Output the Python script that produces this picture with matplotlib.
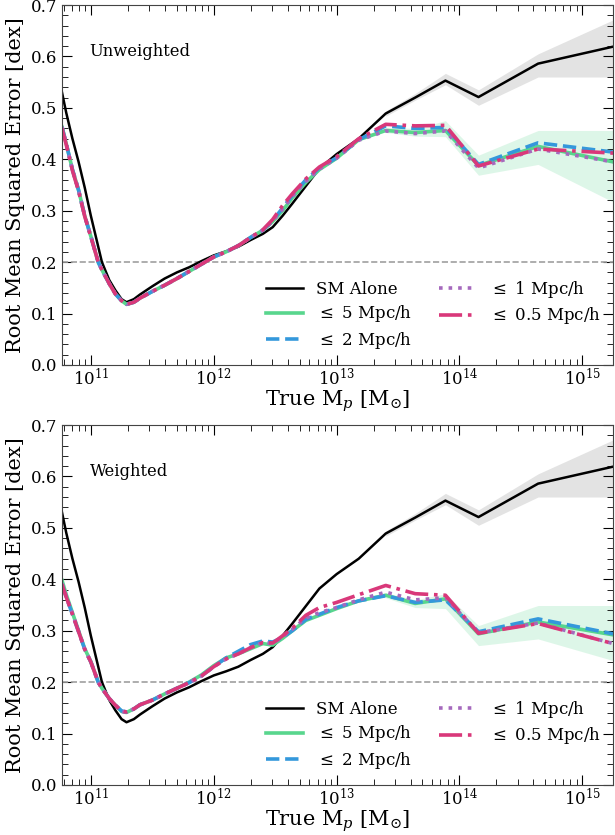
import numpy as np
import matplotlib
matplotlib.use("Agg")
from matplotlib import pyplot as plt
from matplotlib.ticker import AutoMinorLocator, LogLocator, NullFormatter

plt.rcParams["font.family"] = "DejaVu Serif"
plt.rcParams["mathtext.fontset"] = "dejavuserif"

# log10 of true mass grid (shared by every curve)
log_mass = [10.765, 10.8, 10.85, 10.9, 10.95, 11.0, 11.06, 11.09, 11.15, 11.2,
            11.25, 11.29, 11.35, 11.4, 11.5, 11.6, 11.7, 11.8, 11.9, 12.0,
            12.1, 12.2, 12.3, 12.4, 12.48, 12.56, 12.64, 12.75, 12.86, 13.0,
            13.18, 13.4, 13.64, 13.886, 14.155, 14.64, 15.25]

sm_alone = [0.53, 0.49, 0.44, 0.395, 0.345, 0.29, 0.23, 0.20, 0.165, 0.145,
            0.128, 0.122, 0.128, 0.137, 0.153, 0.168, 0.18, 0.19, 0.202, 0.213,
            0.221, 0.23, 0.243, 0.255, 0.268, 0.29, 0.314, 0.348, 0.382, 0.41,
            0.44, 0.489, 0.52, 0.553, 0.521, 0.586, 0.619]

unw_5 = [0.463, 0.43, 0.38, 0.34, 0.29, 0.25, 0.20, 0.185, 0.158, 0.138,
         0.125, 0.118, 0.122, 0.13, 0.143, 0.155, 0.168, 0.182, 0.196, 0.21,
         0.22, 0.232, 0.248, 0.262, 0.279, 0.30, 0.325, 0.355, 0.38, 0.402,
         0.438, 0.456, 0.452, 0.456, 0.388, 0.425, 0.395]
unw_2 = [0.463, 0.43, 0.38, 0.34, 0.29, 0.25, 0.20, 0.185, 0.158, 0.138,
         0.125, 0.118, 0.122, 0.13, 0.143, 0.155, 0.168, 0.182, 0.196, 0.21,
         0.22, 0.232, 0.248, 0.262, 0.281, 0.305, 0.33, 0.36, 0.383, 0.403,
         0.438, 0.465, 0.46, 0.462, 0.39, 0.432, 0.414]
unw_1 = [0.463, 0.43, 0.38, 0.34, 0.29, 0.25, 0.20, 0.185, 0.158, 0.138,
         0.125, 0.118, 0.122, 0.13, 0.143, 0.155, 0.168, 0.182, 0.196, 0.21,
         0.22, 0.232, 0.248, 0.262, 0.28, 0.303, 0.328, 0.357, 0.381, 0.402,
         0.437, 0.455, 0.45, 0.455, 0.383, 0.42, 0.395]
unw_05 = [0.46, 0.428, 0.378, 0.338, 0.289, 0.249, 0.20, 0.185, 0.158, 0.138,
          0.125, 0.118, 0.122, 0.13, 0.143, 0.155, 0.168, 0.182, 0.196, 0.21,
          0.22, 0.232, 0.248, 0.263, 0.283, 0.31, 0.333, 0.362, 0.385, 0.405,
          0.44, 0.468, 0.465, 0.466, 0.387, 0.42, 0.412]

wt_5 = [0.398, 0.37, 0.335, 0.30, 0.265, 0.24, 0.20, 0.188, 0.168, 0.155,
        0.143, 0.141, 0.148, 0.156, 0.165, 0.177, 0.188, 0.2, 0.214, 0.232,
        0.247, 0.255, 0.265, 0.275, 0.272, 0.285, 0.30, 0.32, 0.33, 0.343,
        0.358, 0.369, 0.353, 0.362, 0.294, 0.317, 0.292]
wt_2 = [0.39, 0.365, 0.332, 0.298, 0.264, 0.239, 0.20, 0.188, 0.168, 0.155,
        0.144, 0.142, 0.148, 0.156, 0.165, 0.177, 0.188, 0.199, 0.212, 0.23,
        0.247, 0.26, 0.273, 0.28, 0.278, 0.287, 0.30, 0.322, 0.332, 0.345,
        0.358, 0.368, 0.355, 0.36, 0.298, 0.323, 0.294]
wt_1 = [0.392, 0.366, 0.333, 0.299, 0.264, 0.239, 0.20, 0.188, 0.168, 0.155,
        0.143, 0.141, 0.148, 0.156, 0.165, 0.177, 0.188, 0.199, 0.212, 0.23,
        0.245, 0.255, 0.267, 0.277, 0.275, 0.288, 0.303, 0.325, 0.335, 0.345,
        0.36, 0.375, 0.36, 0.364, 0.296, 0.315, 0.275]
wt_05 = [0.39, 0.365, 0.332, 0.298, 0.264, 0.239, 0.20, 0.188, 0.168, 0.155,
         0.144, 0.142, 0.148, 0.156, 0.165, 0.177, 0.188, 0.199, 0.212, 0.23,
         0.245, 0.255, 0.267, 0.277, 0.276, 0.29, 0.305, 0.33, 0.345, 0.355,
         0.37, 0.388, 0.372, 0.369, 0.295, 0.314, 0.275]

# scatter bands at high mass
band_logm = [13.4, 13.64, 13.886, 14.155, 14.64, 15.25]
sm_lo = [0.484, 0.515, 0.545, 0.505, 0.56, 0.56]
sm_hi = [0.494, 0.528, 0.567, 0.535, 0.605, 0.671]
unw_band_lo = [0.452, 0.445, 0.444, 0.369, 0.39, 0.317]
unw_band_hi = [0.462, 0.46, 0.475, 0.408, 0.456, 0.456]
wt_band_lo = [0.364, 0.345, 0.343, 0.271, 0.284, 0.242]
wt_band_hi = [0.374, 0.36, 0.372, 0.31, 0.349, 0.349]

labels = ["SM Alone", r"$\leq$ 5 Mpc/h", r"$\leq$ 2 Mpc/h",
          r"$\leq$ 1 Mpc/h", r"$\leq$ 0.5 Mpc/h"]
colors = ["black", "#58d68d", "#3498db", "#a569bd", "#d9387a"]
styles = ["-", "-", "--", ":", "-."]
widths = [1.8, 2.6, 2.6, 2.6, 2.6]

mass = 10 ** np.array(log_mass)
band_mass = 10 ** np.array(band_logm)

fig = plt.figure(figsize=(6.15, 8.35), dpi=100)
ax_top = fig.add_axes([0.1008, 0.5629, 0.896, 0.4311])
ax_bot = fig.add_axes([0.1008, 0.0599, 0.896, 0.4311])

panels = [
    (ax_top, "Unweighted", [unw_5, unw_2, unw_1, unw_05], unw_band_lo, unw_band_hi),
    (ax_bot, "Weighted", [wt_5, wt_2, wt_1, wt_05], wt_band_lo, wt_band_hi),
]

for ax, title, series, blo, bhi in panels:
    ax.fill_between(band_mass, sm_lo, sm_hi, color="#e3e3e3", lw=0)
    ax.fill_between(band_mass, blo, bhi, color="#58d68d", alpha=0.2, lw=0)
    ax.axhline(0.2, color="#a0a0a0", ls="--", lw=1.2)
    all_series = [sm_alone] + series
    for vals, lab, c, ls, lw in zip(all_series, labels, colors, styles, widths):
        ax.plot(mass, vals, color=c, ls=ls, lw=lw, label=lab)
    ax.set_xscale("log")
    ax.set_xlim(10 ** 10.765, 10 ** 15.25)
    ax.set_ylim(0, 0.7)
    ax.yaxis.set_minor_locator(AutoMinorLocator(5))
    ax.xaxis.set_minor_locator(LogLocator(base=10, subs=np.arange(2, 10), numticks=20))
    ax.xaxis.set_minor_formatter(NullFormatter())
    ax.tick_params(which="both", direction="in", top=True, right=True, labelsize=12)
    ax.tick_params(which="major", length=7)
    ax.tick_params(which="minor", length=4)
    ax.tick_params(axis="x", pad=2)
    ax.set_ylabel("Root Mean Squared Error [dex]", fontsize=15)
    ax.set_xlabel(r"True M$_p$ [M$_{\odot}$]", fontsize=15, labelpad=0)
    ax.text(0.05, 0.872, title, transform=ax.transAxes, fontsize=11.8, va="center")
    ax.legend(loc="lower right", ncol=2, frameon=False, fontsize=12,
              handlelength=2.2, columnspacing=1.6, labelspacing=0.32,
              bbox_to_anchor=(1.006, -0.002))
    for s in ax.spines.values():
        s.set_color("#444444")

fig.savefig("out.png", dpi=100)
